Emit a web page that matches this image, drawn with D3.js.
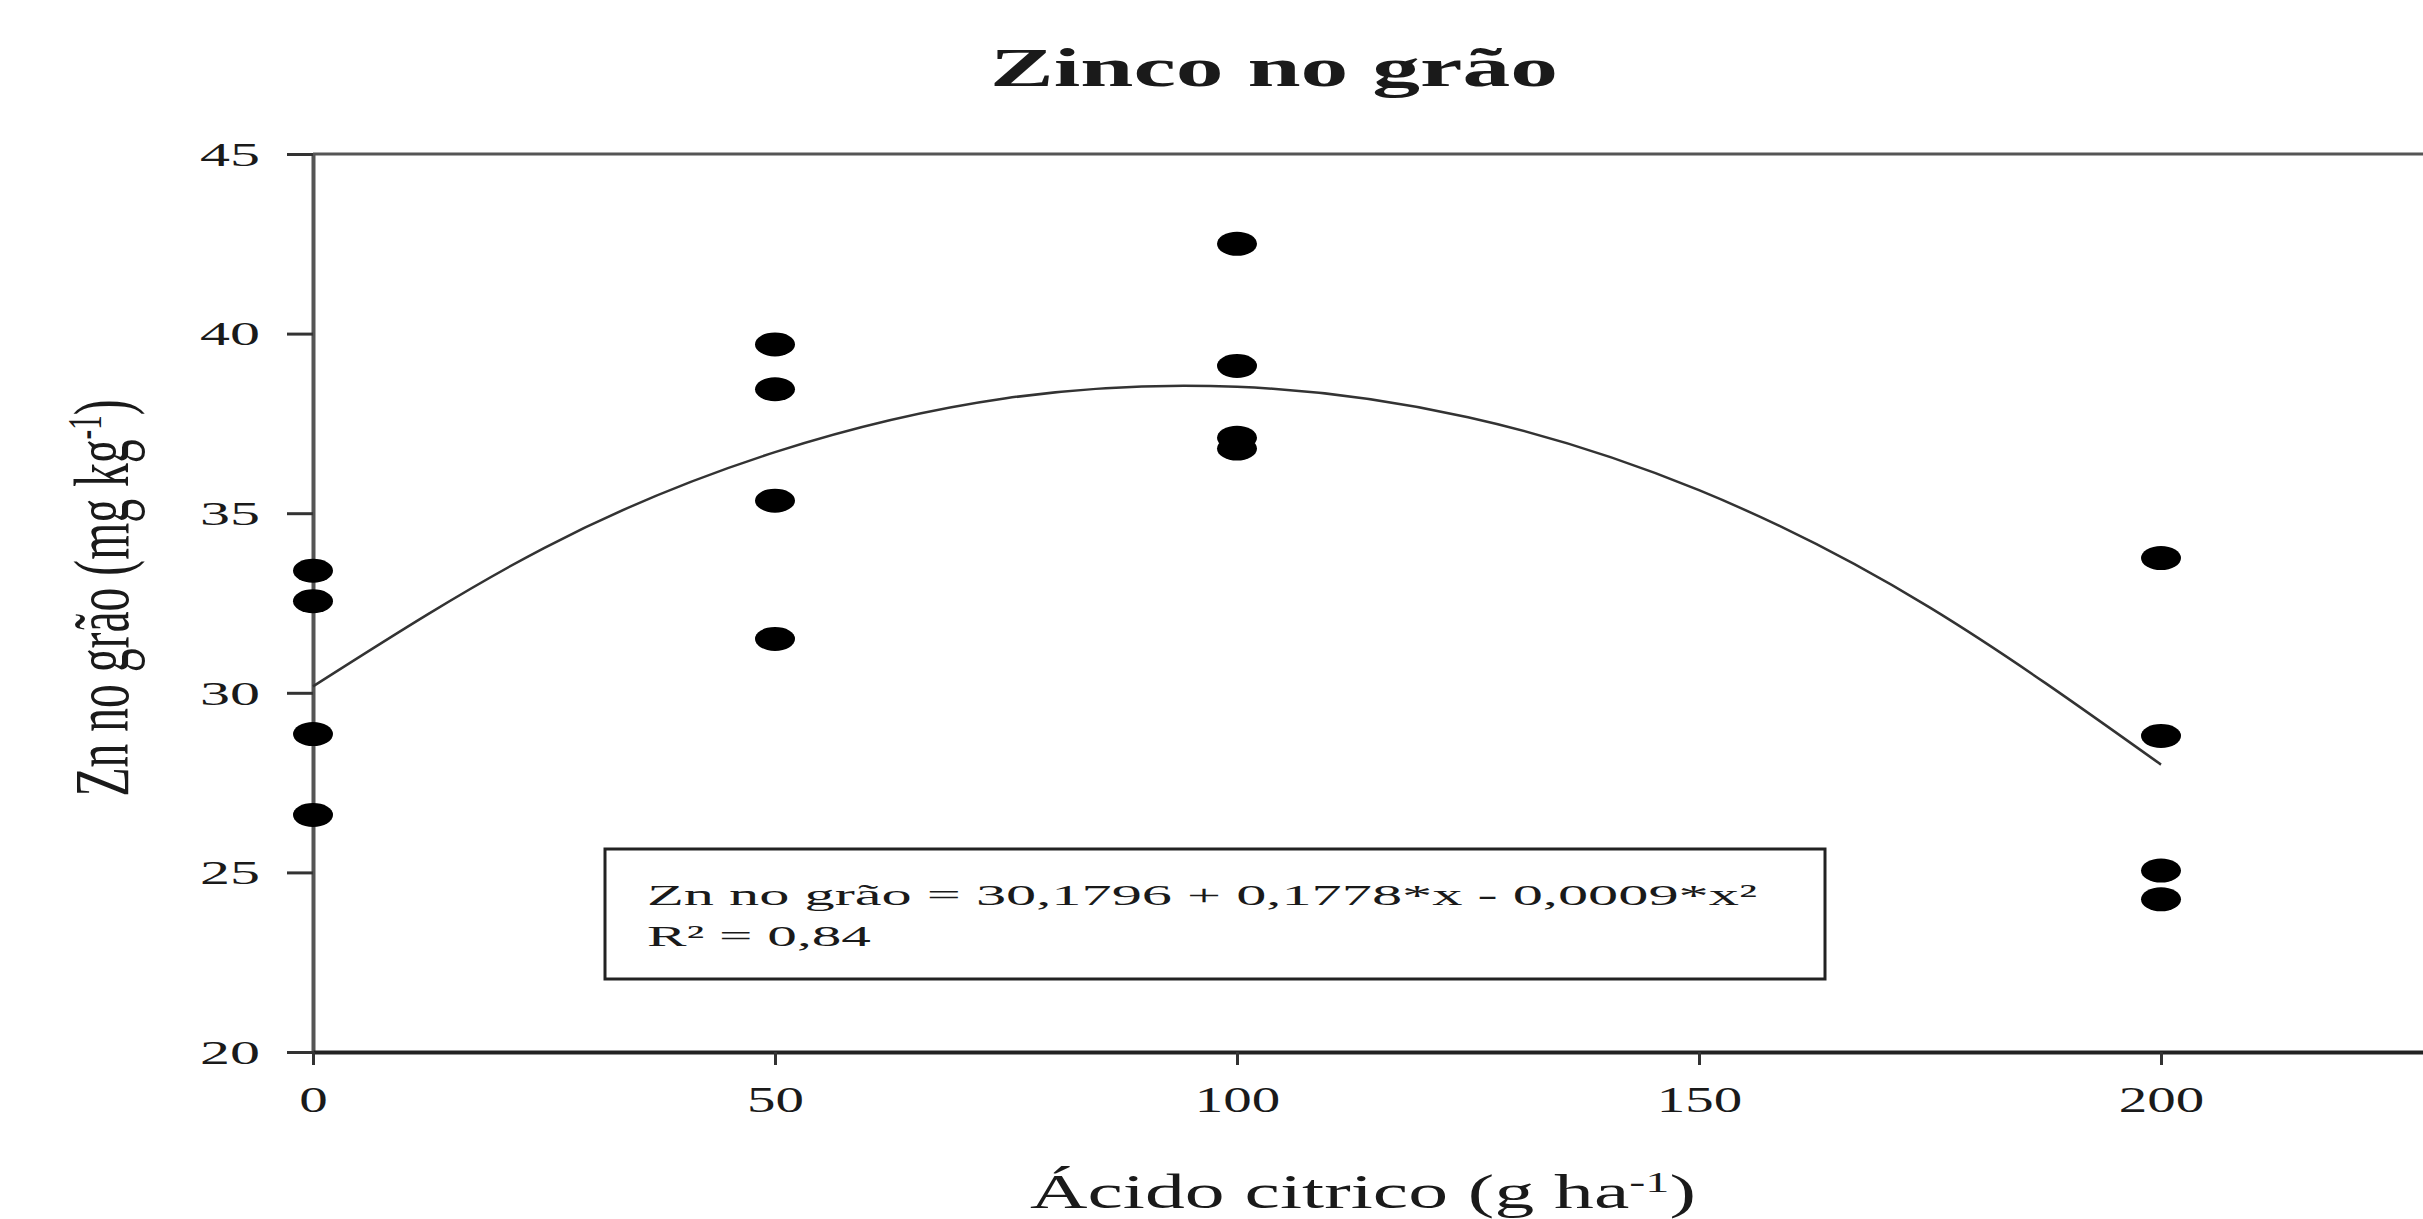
<!DOCTYPE html>
<html lang="pt">
<head>
<meta charset="UTF-8">
<title>Zinco no grão</title>
<style>
  body { margin: 0; padding: 0; background: #fff; overflow: hidden; }
  svg { display: block; }
  text { font-family: "Liberation Serif", "Times New Roman", serif; fill: #1a1a1a; }
</style>
</head>
<body>
<div id="chart"></div>
<script src="https://d3js.org/d3.v7.min.js"></script>
<script>
// data
const doseLevels = [0, 50, 100, 200];
const znAt0 = [33.4, 32.55, 28.85, 26.6];
const znAt50 = [39.7, 38.45, 35.35, 31.5];
const znAt100 = [42.5, 39.1, 37.1, 36.8];
const znAt200 = [33.75, 28.8, 25.05, 24.25];

// fitted curve
const fitDoses = [0, 25, 50, 75, 100, 125, 150, 175, 200];
const fitZn = [30.18, 34.03, 36.70, 38.20, 38.52, 37.67, 35.64, 32.37, 28.0];

const xTicks = [0, 50, 100, 150, 200];
const yTicks = [20, 25, 30, 35, 40, 45];

const titleText = "Zinco no grão";
const eqLine1 = "Zn no grão = 30,1796 + 0,1778*x - 0,0009*x²";
const eqLine2 = "R² = 0,84";

const width = 2423, height = 1219;
const svg = d3.select("#chart").append("svg")
    .attr("width", width).attr("height", height);

// the figure is stretched sideways, so x runs past the right edge
const x = d3.scaleLinear().domain([0, 250]).range([313, 313 + 250 * 9.24]);
const y = d3.scaleLinear().domain([20, 45]).range([1052, 154]);

const points = [];
[znAt0, znAt50, znAt100, znAt200].forEach((vals, i) => {
    vals.forEach(v => points.push({ dose: doseLevels[i], zn: v }));
});

// top frame line
svg.append("line")
    .attr("x1", x(0)).attr("x2", width)
    .attr("y1", y(45)).attr("y2", y(45))
    .attr("stroke", "#555").attr("stroke-width", 3);

// y axis
const yAxis = svg.append("g")
    .attr("transform", `translate(${x(0)},0)`)
    .call(d3.axisLeft(y).tickValues(yTicks).tickSize(26).tickSizeOuter(0));
yAxis.select(".domain").attr("stroke", "#555").attr("stroke-width", 4);
yAxis.selectAll(".tick line").attr("stroke", "#333").attr("stroke-width", 3);
yAxis.selectAll(".tick text")
    .attr("x", -113).attr("dy", "0.34em")
    .attr("text-anchor", "start")
    .attr("font-size", 33)
    .attr("textLength", 60).attr("lengthAdjust", "spacingAndGlyphs")
    .style("font-family", "Liberation Serif").attr("fill", "#222");

// x axis
const xAxis = svg.append("g")
    .attr("transform", `translate(0,${y(20)})`)
    .call(d3.axisBottom(x).tickValues(xTicks).tickSize(13).tickSizeOuter(0));
xAxis.select(".domain").attr("stroke", "#222").attr("stroke-width", 4);
xAxis.selectAll(".tick line").attr("stroke", "#333").attr("stroke-width", 3);
xAxis.selectAll(".tick text")
    .each(function (d) {
        const w = 28.5 * String(d).length;
        d3.select(this)
            .attr("x", -w / 2).attr("y", 60).attr("dy", 0)
            .attr("text-anchor", "start")
            .attr("font-size", 36)
            .attr("textLength", w).attr("lengthAdjust", "spacingAndGlyphs");
    })
    .style("font-family", "Liberation Serif").attr("fill", "#222");

// fitted curve
const line = d3.line()
    .x((d, i) => x(fitDoses[i]))
    .y(d => y(d))
    .curve(d3.curveNatural);
svg.append("path")
    .datum(fitZn)
    .attr("fill", "none")
    .attr("stroke", "#333")
    .attr("stroke-width", 2.5)
    .attr("d", line);

// observations
svg.selectAll("ellipse.pt")
    .data(points)
    .enter().append("ellipse")
    .attr("class", "pt")
    .attr("cx", d => x(d.dose))
    .attr("cy", d => y(d.zn))
    .attr("rx", 20).attr("ry", 12)
    .attr("fill", "#000");

// equation box
svg.append("rect")
    .attr("x", 605).attr("y", 849)
    .attr("width", 1220).attr("height", 130)
    .attr("fill", "#fff")
    .attr("stroke", "#222").attr("stroke-width", 3);
svg.append("text")
    .attr("x", 647).attr("y", 905)
    .attr("font-size", 30)
    .attr("textLength", 1110).attr("lengthAdjust", "spacingAndGlyphs")
    .text(eqLine1);
svg.append("text")
    .attr("x", 647).attr("y", 946)
    .attr("font-size", 30)
    .attr("textLength", 224).attr("lengthAdjust", "spacingAndGlyphs")
    .text(eqLine2);

// title
svg.append("text")
    .attr("x", 990).attr("y", 86)
    .attr("font-size", 54).attr("font-weight", "bold")
    .attr("textLength", 568).attr("lengthAdjust", "spacingAndGlyphs")
    .attr("fill", "#111")
    .text(titleText);

// x axis title, stretched sideways to the target width
const xTitle = svg.append("g");
const xt = xTitle.append("text").attr("font-size", 48);
xt.append("tspan").text("Ácido citrico (g ha");
xt.append("tspan").attr("baseline-shift", "super").attr("font-size", 29).text("-1");
xt.append("tspan").text(")");
const xtw = xt.node().getBBox().width;
xTitle.attr("transform", `translate(1030,1208) scale(${666 / xtw},1)`);

// y axis title, rotated and stretched across
const yTitle = svg.append("g").attr("transform", "translate(128,598) scale(1.65,1) rotate(-90)");
const yt = yTitle.append("text").attr("text-anchor", "middle").attr("font-size", 48);
yt.append("tspan").text("Zn no grão (mg kg");
yt.append("tspan").attr("baseline-shift", "super").attr("font-size", 29).text("-1");
yt.append("tspan").text(")");
const ytw = yt.node().getComputedTextLength();
yt.attr("font-size", 48 * 397 / ytw);
</script>
</body>
</html>
